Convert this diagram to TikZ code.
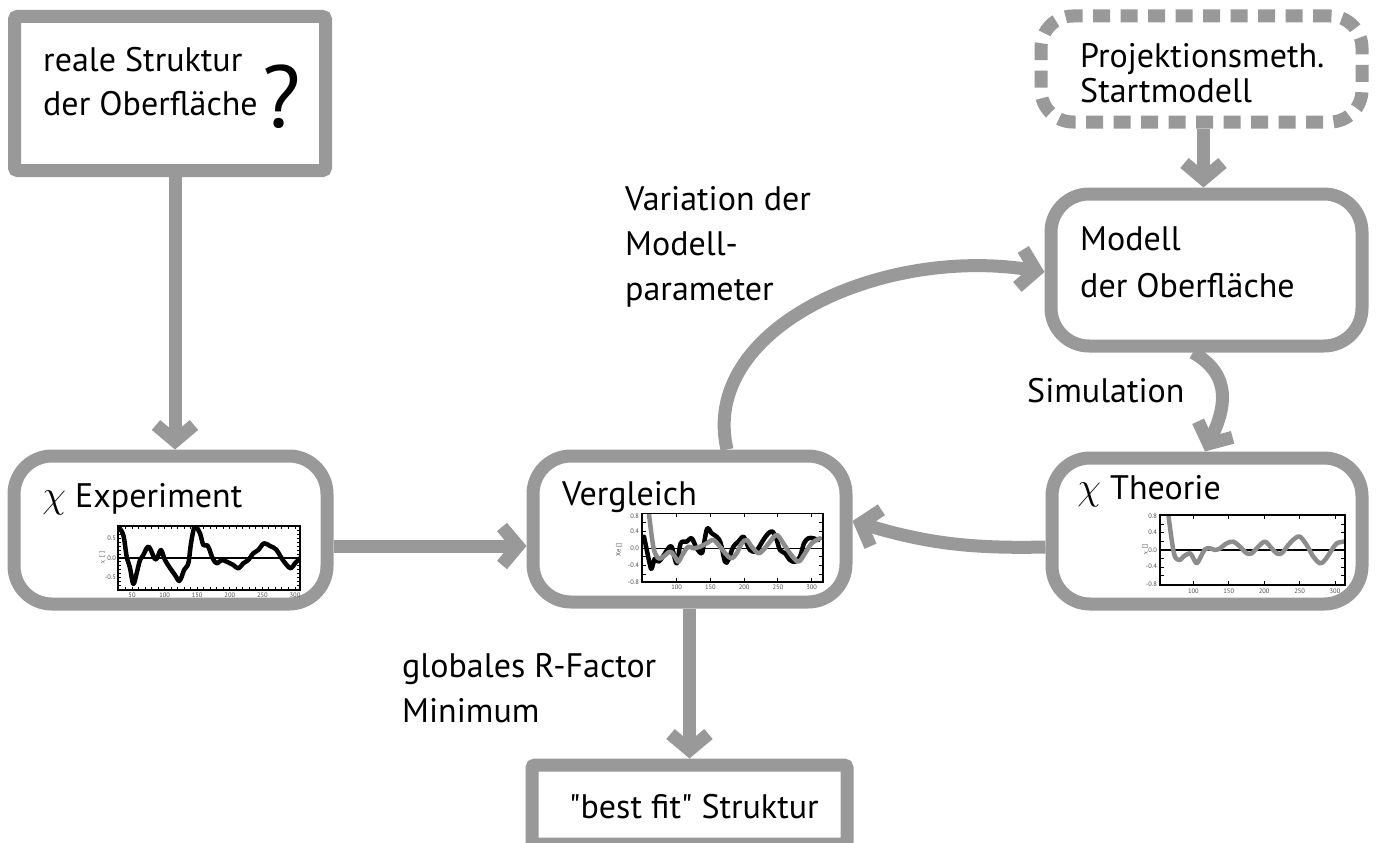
\documentclass[tikz,border=0pt]{standalone}
\usepackage{fontspec}
\setmainfont{PT Sans}
\usetikzlibrary{arrows.meta,calc}
\definecolor{boxgray}{HTML}{999999}
\definecolor{curvegray}{HTML}{8C8C8C}
\tikzset{
  box/.style={draw=boxgray, line width=13pt, inner sep=0pt, fill=white},
  sqbox/.style={box, rounded corners=3pt},
  rbox/.style={box, rounded corners=38pt},
  dbox/.style={box, rounded corners=32pt, dash pattern=on 17pt off 10.5pt},
  flow/.style={draw=boxgray, line width=13pt, -{Straight Barb[length=16pt, width=38pt]}},
  txt/.style={anchor=base west, inner sep=0pt, font=\fontsize{34}{40}\selectfont},
  chisym/.style={anchor=base west, inner sep=0pt, scale=1.55, font=\fontsize{24.88}{30}\selectfont},
  axis/.style={line width=1.6pt, black},
  tick/.style={line width=1pt, black},
  ticklbl/.style={inner sep=0pt, font=\fontsize{6.5}{7}\selectfont, text=black!70},
  blackcurve/.style={line width=4.5pt, black, line join=round, line cap=round},
  graycurve/.style={line width=4.5pt, curvegray, line join=round, line cap=round},
}
\begin{document}
\begin{tikzpicture}[x=1pt,y=1pt]
\clip (0,0) rectangle (1376,-843);

% ---------- boxes ----------
\node[sqbox, minimum width=311pt, minimum height=154pt] (real) at (170,-93.5) {};
\node[dbox,  minimum width=321pt, minimum height=106pt] (proj) at (1201.5,-69) {};
\node[rbox,  minimum width=311pt, minimum height=152pt] (model) at (1206.5,-270) {};
\node[rbox,  minimum width=313pt, minimum height=148pt] (exp) at (170.5,-530) {};
\node[rbox,  minimum width=313pt, minimum height=146pt] (verg) at (689.5,-529) {};
\node[rbox,  minimum width=310pt, minimum height=146pt] (theo) at (1207,-531) {};
\node[sqbox, minimum width=315pt, minimum height=79pt] (best) at (689.5,-804.5) {};

% ---------- box texts ----------
\node[txt] (real1) at (43,-71) {reale Struktur};
\node[txt] (real2) at (43,-115) {der Oberfläche};
\node[anchor=base west, inner sep=0pt, font=\fontsize{88}{90}\selectfont] (realq) at (262,-127) {?};
\node[txt] (proj1) at (1080,-67) {Projektionsmeth.};
\node[txt] (proj2) at (1080,-102) {Startmodell};
\node[txt] (model1) at (1080,-250) {Modell};
\node[txt] (model2) at (1080,-297) {der Oberfläche};
\node[chisym] (exp0) at (42,-507) {$\chi$};
\node[txt] (exp1) at (75,-507) {Experiment};
\node[txt] (verg1) at (562,-505) {Vergleich};
\node[chisym] (theo0) at (1077,-499) {$\chi$};
\node[txt] (theo1) at (1110,-499) {Theorie};
\node[txt] (best1) at (569,-818) {\textquotedbl best fit\textquotedbl{} Struktur};

% ---------- free labels ----------
\node[txt] (var1) at (625,-210) {Variation der};
\node[txt] (var2) at (625,-255) {Modell-};
\node[txt] (var3) at (625,-300) {parameter};
\node[txt] (sim) at (1027,-402) {Simulation};
\node[txt] (glob1) at (402,-677) {globales R-Factor};
\node[txt] (glob2) at (402,-722) {Minimum};

% ---------- plot: chi experiment ----------
\foreach \k in {30,40,...,300} {
  \draw[tick] ({132+(\k-50)*0.652},-526) -- ++(0,-3);
  \draw[tick] ({132+(\k-50)*0.652},-590) -- ++(0,3);
}
\foreach \v in {-8,...,8} {
  \draw[tick] (118,{-558+\v*3.9}) -- ++(3,0);
  \draw[tick] (300,{-558+\v*3.9}) -- ++(-3,0);
}
\foreach \k in {50,100,...,300}
  \node[ticklbl, anchor=north] (ex\k) at ({132+(\k-50)*0.652},-593) {\k};
\node[ticklbl, anchor=east] (eyp) at (116,-538.5) {0.5};
\node[ticklbl, anchor=east] (eyz) at (116,-558) {0.0};
\node[ticklbl, anchor=east] (eym) at (116,-577.5) {-0.5};
\node[ticklbl, rotate=90] (eyt) at (102,-558) {$\chi$ [ ]};
\begin{scope}
  \clip (118,-526) rectangle (300,-590);
  \draw[line width=1.4pt] (118,-558) -- (300,-558);
  \draw[blackcurve] plot[smooth, tension=0.55] coordinates {
    (118.3,-526.7) (123.3,-535) (126.7,-556.7) (130,-568) (133.3,-584) (136.7,-573)
    (140,-560) (143.3,-555) (147.3,-547.3) (150,-548.3) (155,-559.3) (157.7,-556.7)
    (161,-550) (165,-560) (170,-568) (175,-575) (179,-581) (181.7,-576.7) (184,-570)
    (188.3,-563.3) (191,-543.3) (194,-528) (196,-526.7) (200,-533.3) (203.3,-545)
    (206.7,-545) (209,-548.3) (212.7,-558.3) (216.7,-563.3) (221.7,-560) (226.7,-561.7)
    (233.3,-565) (238.3,-568.3) (243.3,-563.3) (248.3,-560) (253.3,-553.3) (258.3,-550)
    (264,-543.3) (270,-546) (276,-549.3) (281.7,-558.3) (286.7,-565) (291,-568.3)
    (295,-563.3) (300,-558.3)};
\end{scope}
\draw[axis] (118,-526) rectangle (300,-590);

% ---------- plot: comparison ----------
\foreach \k in {100,150,...,300} {
  \draw[tick] ({676.7+(\k-100)*0.675},-513.3) -- ++(0,-4);
  \draw[tick] ({676.7+(\k-100)*0.675},-581.7) -- ++(0,4);
  \node[ticklbl, anchor=north] (vx\k) at ({676.7+(\k-100)*0.675},-585) {\k};
}
\foreach \v in {-4,...,4} {
  \draw[tick] (641.7,{-548.3+\v*8.6}) -- ++(4,0);
  \draw[tick] (822.7,{-548.3+\v*8.6}) -- ++(-4,0);
}
\node[ticklbl, anchor=east] (vy1) at (639,-516) {0.8};
\node[ticklbl, anchor=east] (vy2) at (639,-531) {0.4};
\node[ticklbl, anchor=east] (vy3) at (639,-548.3) {0.0};
\node[ticklbl, anchor=east] (vy4) at (639,-565.5) {-0.4};
\node[ticklbl, anchor=east] (vy5) at (639,-582.5) {-0.8};
\node[ticklbl, rotate=90] (vyt) at (619,-550) {Xe []};
\begin{scope}
  \clip (641.7,-513.3) rectangle (822.7,-581.7);
  \draw[line width=1.4pt] (641.7,-548.3) -- (822.7,-548.3);
  \draw[blackcurve] plot[smooth, tension=0.55] coordinates {
    (644,-536.7) (650,-565) (651.7,-568.3) (655,-558.3) (658.3,-561.7) (661.7,-558.3)
    (665,-553.3) (668.3,-548.3) (671.7,-546.7) (676.7,-563.3) (680.7,-543.3) (686.7,-541.7)
    (691.7,-538.3) (696.7,-548.3) (701.7,-553.3) (704,-543.3) (707.3,-528.3) (711.7,-533.3)
    (716.7,-536.7) (720.7,-543.3) (725,-561.7) (728.3,-560) (733.3,-546.7) (738.3,-541.7)
    (743.3,-536.7) (746.7,-543.3) (750,-550) (755,-551.7) (758.3,-548.3) (763.3,-540)
    (768.3,-533.3) (772.7,-531.7) (776.7,-540) (780,-550) (785,-553.3) (790,-560)
    (795,-561.7) (800,-556.7) (804,-543.3) (808.3,-538.3) (813.3,-538.3) (818.3,-540)};
  \draw[graycurve] plot[smooth, tension=0.55] coordinates {
    (648.3,-508) (653.3,-546.7) (658.3,-558.3) (663.3,-556.7) (670,-551.7) (675,-556.7)
    (678.3,-561.7) (683.3,-553.3) (688.3,-546.7) (693.3,-548.3) (700,-546.7) (706.7,-543.3)
    (713.3,-540) (720,-546.7) (726.7,-555) (731.7,-558.3) (736.7,-553.3) (741.7,-543.3)
    (746.7,-540) (751.7,-546.7) (758.3,-553.3) (763.3,-550) (770,-541.7) (776.7,-535)
    (783.3,-543.3) (790,-553.3) (798.3,-561.7) (805,-553.3) (811.7,-543.3) (820,-538.3)};
\end{scope}
\draw[axis] (641.7,-513.3) rectangle (822.7,-581.7);

% ---------- plot: theory ----------
\foreach \k in {100,150,...,300} {
  \draw[tick] ({1193.3+(\k-100)*0.7085},-515) -- ++(0,-4);
  \draw[tick] ({1193.3+(\k-100)*0.7085},-585) -- ++(0,4);
  \node[ticklbl, anchor=north] (tx\k) at ({1193.3+(\k-100)*0.7085},-589) {\k};
}
\foreach \v in {-4,...,4} {
  \draw[tick] (1160,{-550+\v*8.66}) -- ++(4,0);
  \draw[tick] (1345,{-550+\v*8.66}) -- ++(-4,0);
}
\node[ticklbl, anchor=east] (ty1) at (1157,-516) {0.8};
\node[ticklbl, anchor=east] (ty2) at (1157,-532.7) {0.4};
\node[ticklbl, anchor=east] (ty3) at (1157,-550) {0.0};
\node[ticklbl, anchor=east] (ty4) at (1157,-566.7) {-0.4};
\node[ticklbl, anchor=east] (ty5) at (1157,-584) {-0.8};
\node[ticklbl, rotate=90] (tyt) at (1145,-550) {$\chi$ []};
\begin{scope}
  \clip (1160,-515) rectangle (1345,-585);
  \draw[line width=1.4pt] (1160,-550) -- (1345,-550);
  \draw[graycurve] plot[smooth, tension=0.55] coordinates {
    (1167.5,-508) (1171.7,-540) (1175,-556.7) (1180,-560) (1183.3,-556.7) (1190,-553.3)
    (1193.3,-558.3) (1196.7,-563.3) (1200,-558.3) (1205,-549.3) (1210,-548.3) (1215,-550)
    (1220,-548.3) (1226.7,-543.3) (1233.3,-541.7) (1240,-546.7) (1246.7,-553.3) (1251.7,-553.3)
    (1258.3,-546.7) (1265,-541.7) (1271.7,-548.3) (1276.7,-553.3) (1281.7,-553.3) (1288.3,-545)
    (1295,-538.3) (1300,-536.7) (1306.7,-545) (1313.3,-556.7) (1320,-563.3) (1325,-560)
    (1331.7,-550) (1336.7,-543.3) (1343.3,-541.7) (1350,-540)};
\end{scope}
\draw[axis] (1160,-515) rectangle (1345,-585);

% ---------- connectors ----------
\draw[flow] ([xshift=5pt]real.south) -- ([xshift=5pt]real.south |- exp.north);
\draw[flow] ([xshift=2pt]proj.south) -- ([xshift=2pt]proj.south |- model.north);
\draw[flow] ([yshift=-16pt]exp.east) -- ([yshift=-16pt]exp.east -| verg.west);
\draw[flow] (verg.south) -- (best.north);
\draw[flow] ([yshift=-16pt]theo.west) to[bend left=9] ([yshift=8pt]verg.east);
\draw[flow] ([xshift=-13.5pt]model.south) to[out=-30, in=65, looseness=1.2] ([xshift=-2pt]theo.north);
\draw[flow] ([xshift=37.5pt]verg.north) to[out=103, in=171, out looseness=0.87, in looseness=1.17] ([yshift=-2pt]model.west);
\end{tikzpicture}
\end{document}
